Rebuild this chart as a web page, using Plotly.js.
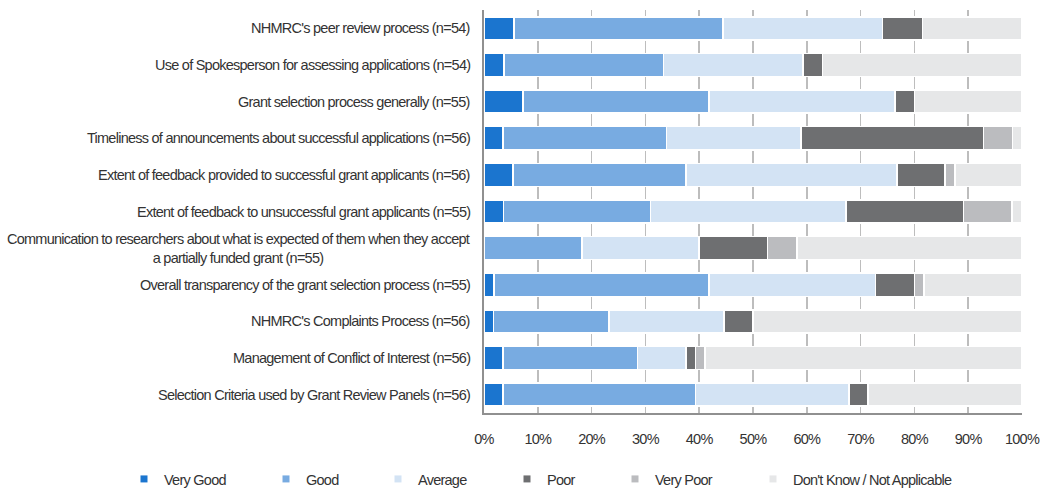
<!DOCTYPE html>
<html>
<head>
<meta charset="utf-8">
<script src="https://cdn.plot.ly/plotly-3.0.1.min.js"></script>
<style>
  html, body { margin: 0; padding: 0; background: #ffffff; }
  #chart { width: 1042px; height: 489px; }
  /* tight spacing for a condensed look */
  text { letter-spacing: -0.75px; }
</style>
</head>
<body>
<div id="chart"></div>
<script>
// Survey items, top to bottom
const categories = [
  "NHMRC's peer review process (n=54)",
  "Use of Spokesperson for assessing applications (n=54)",
  "Grant selection process generally (n=55)",
  "Timeliness of announcements about successful applications (n=56)",
  "Extent of feedback provided to successful grant applicants (n=56)",
  "Extent of feedback to unsuccessful grant applicants (n=55)",
  "Communication to researchers about what is expected of them when they accept<br>a partially funded grant (n=55)",
  "Overall transparency of the grant selection process (n=55)",
  "NHMRC's Complaints Process (n=56)",
  "Management of Conflict of Interest (n=56)",
  "Selection Criteria used by Grant Review Panels (n=56)"
];

// Share of respondents per rating (%)
const veryGood = [5.56, 3.70, 7.27, 3.57, 5.36, 3.64, 0.00, 1.82, 1.79, 3.57, 3.57];
const good     = [38.89, 29.63, 34.55, 30.36, 32.14, 27.27, 18.18, 40.00, 21.43, 25.00, 35.71];
const average  = [29.63, 25.93, 34.55, 25.00, 39.29, 36.36, 21.82, 30.91, 21.43, 8.93, 28.57];
const poor     = [7.41, 3.70, 3.64, 33.93, 8.93, 21.82, 12.73, 7.27, 5.36, 1.79, 3.57];
const veryPoor = [0.00, 0.00, 0.00, 5.36, 1.79, 9.09, 5.45, 1.82, 0.00, 1.79, 0.00];
const dontKnow = [18.52, 37.04, 20.00, 1.79, 12.50, 1.82, 41.82, 18.18, 50.00, 58.93, 28.57];

const seriesNames = ["Very Good", "Good", "Average", "Poor", "Very Poor", "Don't Know / Not Applicable"];
const seriesValues = [veryGood, good, average, poor, veryPoor, dontKnow];
const seriesColors = ["#1b75cf", "#78abe1", "#d3e3f4", "#6e6f71", "#bbbcbf", "#e6e7e8"];

// x tick values and labels
const tickValues = [0, 10, 20, 30, 40, 50, 60, 70, 80, 90, 100];
const tickLabels = ["0%", "10%", "20%", "30%", "40%", "50%", "60%", "70%", "80%", "90%", "100%"];

// left edge (container px) of each legend entry
const legendLeft = [124, 266, 378, 507, 615, 753];

const FONT = "'Liberation Sans Narrow', 'Arial Narrow', 'Liberation Sans', Arial, sans-serif";
const FONT_SIZE = 14.5;
const TEXT_COLOR = "#333333";
const W = 1042, H = 489;

const traces = [];
seriesNames.forEach((name, i) => {
  traces.push({
    type: "bar",
    orientation: "h",
    name: name,
    y: categories,
    x: seriesValues[i],
    marker: { color: seriesColors[i], line: { color: "#ffffff", width: 1.5 } },
    showlegend: false,
    hoverinfo: "name+x"
  });
});
// small square legend keys
seriesNames.forEach((name, i) => {
  traces.push({
    type: "scatter",
    mode: "markers",
    name: name,
    x: [null],
    y: [null],
    marker: { symbol: "square", size: 7, color: seriesColors[i] },
    legend: i === 0 ? "legend" : "legend" + (i + 1),
    showlegend: true,
    hoverinfo: "skip"
  });
});

const layout = {
  width: W,
  height: H,
  margin: { l: 484, r: 20, t: 10, b: 76 },
  paper_bgcolor: "#ffffff",
  plot_bgcolor: "#ffffff",
  barmode: "stack",
  bargap: 0.37,
  font: { family: FONT, size: FONT_SIZE, color: TEXT_COLOR },
  xaxis: {
    range: [0, 100],
    tickvals: tickValues,
    ticktext: tickLabels,
    showgrid: true,
    gridcolor: "#bdbdbd",
    gridwidth: 1.5,
    zeroline: false,
    showline: true,
    linecolor: "#909090",
    linewidth: 2,
    ticks: "",
    ticklabelstandoff: 12,
    tickfont: { family: FONT, size: FONT_SIZE, color: TEXT_COLOR },
    fixedrange: true
  },
  yaxis: {
    type: "category",
    categoryorder: "array",
    categoryarray: categories,
    autorange: "reversed",
    showticklabels: false,
    showgrid: false,
    zeroline: false,
    showline: true,
    linecolor: "#909090",
    linewidth: 2,
    ticks: "",
    fixedrange: true
  },
  annotations: categories.map(c => ({
    xref: "paper",
    yref: "y",
    x: 0,
    y: c,
    xanchor: "right",
    yanchor: "middle",
    xshift: -12,
    text: c,
    align: "center",
    showarrow: false,
    font: { family: FONT, size: FONT_SIZE, color: TEXT_COLOR }
  }))
};

seriesNames.forEach((name, i) => {
  const key = i === 0 ? "legend" : "legend" + (i + 1);
  layout[key] = {
    orientation: "h",
    xref: "container",
    yref: "container",
    x: legendLeft[i] / W,
    xanchor: "left",
    y: 1 - 479 / H,
    yanchor: "middle",
    bgcolor: "rgba(0,0,0,0)",
    itemwidth: 30,
    font: { family: FONT, size: FONT_SIZE, color: TEXT_COLOR }
  };
});

Plotly.newPlot("chart", traces, layout, { displayModeBar: false, staticPlot: true });
</script>
</body>
</html>
